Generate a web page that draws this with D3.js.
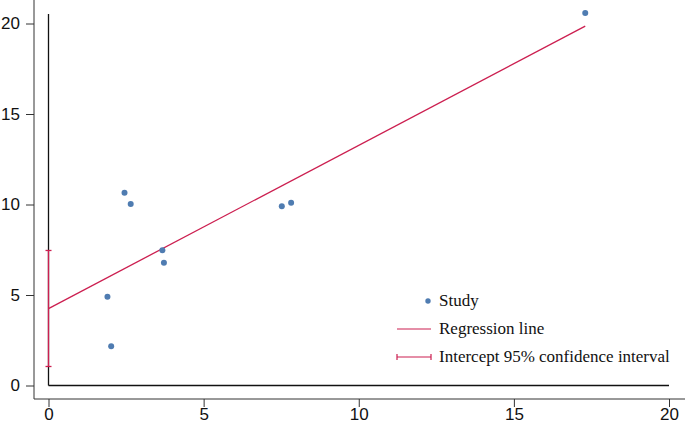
<!DOCTYPE html>
<html><head><meta charset="utf-8">
<script src="https://cdn.jsdelivr.net/npm/d3@7"></script>
<style>body{margin:0;background:#fff}svg{display:block}</style>
</head><body>
<svg id="c" width="685" height="423"></svg>
<script>
const studyX = [17.3, 2.45, 2.65, 3.67, 3.72, 1.9, 2.02, 7.52, 7.82];
const studyY = [20.58, 10.65, 10.03, 7.47, 6.78, 4.9, 2.17, 9.9, 10.1];
const regIntercept = 4.25;
const regSlope = 0.902;
const regXRange = [0, 17.3];
const ciLow = 1.05, ciHigh = 7.46;
const xTicks = [0, 5, 10, 15, 20];
const yTicks = [0, 5, 10, 15, 20];
const legendLabels = ["Study", "Regression line", "Intercept 95% confidence interval"];

const svg = d3.select("#c");
const x = d3.scaleLinear().domain([0, 20]).range([48.5, 669]);
const y = d3.scaleLinear().domain([0, 20]).range([385.5, 23.5]);
const ptCol = "#4f7cb1", lineCol = "#cc1f50", axCol = "#333";

// outer axes
const xAx = svg.append("g").attr("transform", "translate(0,399)")
  .call(d3.axisBottom(x).tickValues(xTicks).tickSize(8).tickPadding(1).tickSizeOuter(0));
xAx.select(".domain").remove();
svg.append("line").attr("x1", 34).attr("x2", 685).attr("y1", 399).attr("y2", 399).attr("stroke", axCol);
const yAx = svg.append("g").attr("transform", "translate(34,0)")
  .call(d3.axisLeft(y).tickValues(yTicks).tickSize(8).tickPadding(6).tickSizeOuter(0));
yAx.select(".domain").remove();
svg.append("line").attr("x1", 34).attr("x2", 34).attr("y1", 0).attr("y2", 399).attr("stroke", axCol);
svg.selectAll(".tick line").attr("stroke", axCol);
svg.selectAll(".tick text").attr("font-family", "Liberation Sans, Arial, sans-serif")
  .attr("font-size", 17).attr("fill", "#111");

// inner frame lines
svg.append("line").attr("x1", x(0)).attr("x2", x(0)).attr("y1", 14).attr("y2", y(0)).attr("stroke", "#111").attr("stroke-width", 1.3);
svg.append("line").attr("x1", x(0)).attr("x2", x(20)).attr("y1", y(0)).attr("y2", y(0)).attr("stroke", "#111").attr("stroke-width", 1.3);

// CI
svg.append("line").attr("x1", x(0)).attr("x2", x(0)).attr("y1", y(ciLow)).attr("y2", y(ciHigh)).attr("stroke", lineCol).attr("stroke-width", 1.3);
[ciLow, ciHigh].forEach(v => svg.append("line").attr("x1", x(0) - 3).attr("x2", x(0) + 3)
  .attr("y1", y(v)).attr("y2", y(v)).attr("stroke", lineCol).attr("stroke-width", 1.3));

// regression line
svg.append("line").attr("x1", x(regXRange[0])).attr("y1", y(regIntercept + regSlope * regXRange[0]))
  .attr("x2", x(regXRange[1])).attr("y2", y(regIntercept + regSlope * regXRange[1]))
  .attr("stroke", lineCol).attr("stroke-width", 1.3);

// points
svg.selectAll("circle.pt").data(studyX.map((d, i) => [d, studyY[i]])).enter().append("circle")
  .attr("class", "pt").attr("cx", d => x(d[0])).attr("cy", d => y(d[1])).attr("r", 3).attr("fill", ptCol);

// legend
const lg = svg.append("g").attr("font-family", "Liberation Serif, Times New Roman, serif").attr("font-size", 17).attr("fill", "#111");
lg.append("circle").attr("cx", 428).attr("cy", 301).attr("r", 2.7).attr("fill", ptCol);
lg.append("line").attr("x1", 397).attr("x2", 431).attr("y1", 329).attr("y2", 329).attr("stroke", lineCol).attr("stroke-width", 1.2);
lg.append("line").attr("x1", 397).attr("x2", 431).attr("y1", 357).attr("y2", 357).attr("stroke", lineCol).attr("stroke-width", 1.2);
[397, 431].forEach(xx => lg.append("line").attr("x1", xx).attr("x2", xx).attr("y1", 354).attr("y2", 360).attr("stroke", lineCol).attr("stroke-width", 1.2));
legendLabels.forEach((t, i) => lg.append("text").attr("x", 439).attr("y", 306 + i * 28).text(t));
</script>
</body></html>
